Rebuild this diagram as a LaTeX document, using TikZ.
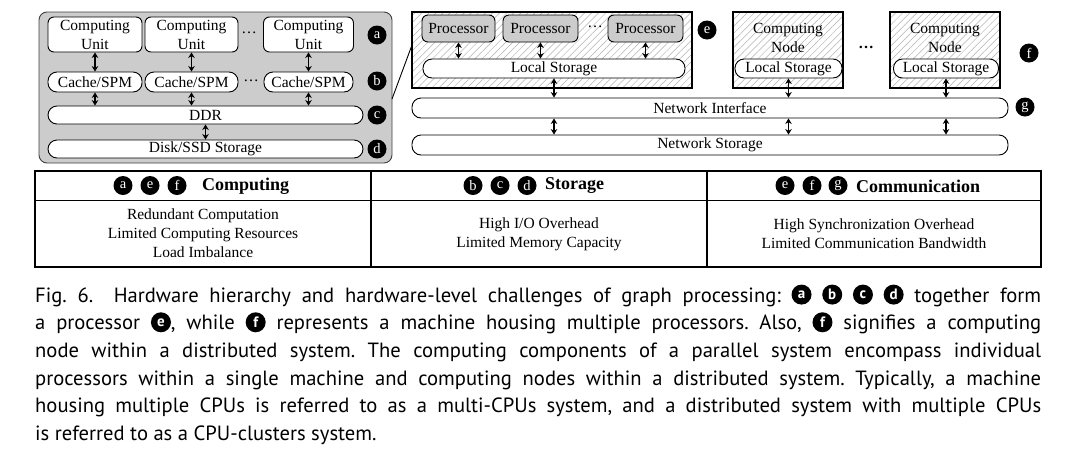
\documentclass[tikz,border=0pt]{standalone}
\usepackage{fontspec}
\setmainfont{Liberation Serif}
\newfontfamily\captfont{PT Sans}
\usetikzlibrary{patterns.meta,arrows.meta}
\frenchspacing
\newcommand\dgfont{\fontsize{15.5}{19}\selectfont}
\newcommand\hdfont{\fontsize{18}{20}\selectfont\bfseries}
\newcommand\cc[1]{\tikz[baseline=-0.36em]\node[anchor=center,circle,fill=black,text=white,inner sep=0pt,minimum size=20pt,font=\captfont\bfseries\fontsize{15}{15}\selectfont]{#1};}
\tikzset{
  box/.style={draw=black, line width=0.9pt, fill=white, rounded corners=6pt, align=center, inner sep=0pt, font=\dgfont},
  procbox/.style={box, fill=black!20},
  pill/.style={draw=black, line width=0.9pt, fill=white, rounded corners=9pt, inner sep=0pt, font=\dgfont},
  hatchbox/.style={draw=black, line width=1.1pt, inner sep=0pt, preaction={fill=white}, pattern={Lines[angle=45,distance=5pt,line width=0.5pt]}, pattern color=black!30},
  lab/.style={circle, fill=black, text=white, inner sep=0pt, minimum size=19pt, font=\fontsize{14.5}{14.5}\selectfont},
  dar/.style={{Stealth[length=5.5pt,width=6.5pt]}-{Stealth[length=5.5pt,width=6.5pt]}, line width=1.1pt},
  txt/.style={inner sep=0pt, align=center, font=\dgfont},
  hd/.style={inner sep=0pt, anchor=west, font=\hdfont},
  capline/.style={inner sep=0pt, anchor=base west, font=\captfont\fontsize{20.6}{27.7}\selectfont}
}
\begin{document}
\begin{tikzpicture}[x=1pt,y=-1pt]
\useasboundingbox (0,0) rectangle (1080,456);
% ---- left processor group
\node[draw=black!75, fill=black!20, rounded corners=8pt, line width=0.9pt, minimum width=353pt, minimum height=151pt, inner sep=0pt] (grp) at (215.5,87.5) {};
\node[box, minimum width=94pt, minimum height=35pt] (cu1) at (95,34.5) {Computing\\Unit};
\node[box, minimum width=93pt, minimum height=35pt] (cu2) at (191.5,34.5) {Computing\\Unit};
\node[box, minimum width=90pt, minimum height=35pt] (cu3) at (308.5,34.5) {Computing\\Unit};
\node[txt] (dots1) at (249,33) {\dots};
\node[pill, minimum width=94pt, minimum height=20pt] (ca1) at (95,82) {Cache/SPM};
\node[pill, minimum width=93pt, minimum height=20pt] (ca2) at (191.5,82) {Cache/SPM};
\node[pill, minimum width=89pt, minimum height=20pt] (ca3) at (308.5,82) {Cache/SPM};
\node[txt] (dots2) at (251,81) {\dots};
\node[pill, minimum width=315pt, minimum height=18pt] (ddr) at (205.5,115) {DDR};
\node[pill, minimum width=315pt, minimum height=18pt] (disk) at (205.5,149) {Disk/SSD Storage};
\draw[dar] (cu1) -- (ca1);
\draw[dar] (cu2) -- (ca2);
\draw[dar] (cu3) -- (ca3);
\draw[dar] (ca1.south) -- (ca1.south |- ddr.north);
\draw[dar] (ca2.south) -- (ca2.south |- ddr.north);
\draw[dar] (ca3.south) -- (ca3.south |- ddr.north);
\draw[dar] (ddr) -- (disk);
\node[lab] (la) at (377,35) {a};
\node[lab] (lb) at (377,81) {b};
\node[lab] (lc) at (377,115) {c};
\node[lab] (ld) at (377,149) {d};
% ---- processor frame
\node[hatchbox, minimum width=280pt, minimum height=76pt] (pf) at (552,50) {};
\coordinate (dA) at (392,99);
\coordinate (dB) at (412,45);
\draw[line width=0.9pt] (dA) -- (dB);
\node[procbox, minimum width=73pt, minimum height=27pt] (p1) at (458.5,28.5) {Processor};
\node[procbox, minimum width=75pt, minimum height=27pt] (p2) at (540.5,28.5) {Processor};
\node[procbox, minimum width=75pt, minimum height=27pt] (p3) at (645.5,28.5) {Processor};
\node[txt] (dots3) at (595,27) {\dots};
\node[pill, minimum width=262pt, minimum height=19pt] (ls) at (554,68.5) {Local Storage};
\draw[dar] (p1.south) -- (p1.south |- ls.north);
\draw[dar] (p2.south) -- (p2.south |- ls.north);
\draw[dar] (p3.south) -- (p3.south |- ls.north);
\node[lab] (le) at (707,30) {e};
% ---- computing nodes
\node[hatchbox, minimum width=110pt, minimum height=76pt] (cn1) at (788,50) {};
\node[hatchbox, minimum width=110pt, minimum height=76pt] (cn2) at (945,50) {};
\node[txt] (cn1t) at (788,37.5) {Computing\\Node};
\node[txt] (cn2t) at (945,37.5) {Computing\\Node};
\node[pill, minimum width=107pt, minimum height=19pt] (ls1) at (788.5,68.5) {Local Storage};
\node[pill, minimum width=105pt, minimum height=19pt] (ls2) at (946,68.5) {Local Storage};
\node[txt, font=\dgfont\bfseries] (dots4) at (866,47) {\dots};
\node[lab] (lf) at (1029,53) {f};
% ---- network
\node[pill, minimum width=596pt, minimum height=20pt] (ni) at (710,108) {Network Interface};
\node[pill, minimum width=596pt, minimum height=20pt] (ns) at (710,145) {Network Storage};
\node[lab] (lg) at (1025,107) {g};
\draw[dar] (ls.south) -- (ls.south |- ni.north);
\draw[dar] (ls1.south) -- (ls1.south |- ni.north);
\draw[dar] (ls2.south) -- (ls2.south |- ni.north);
\draw[dar] (ni.south -| ls.south) -- (ns.north -| ls.south);
\draw[dar] (ni.south -| ls1.south) -- (ns.north -| ls1.south);
\draw[dar] (ni.south -| ls2.south) -- (ns.north -| ls2.south);
% ---- table
\coordinate (tTL) at (35,170.5);
\coordinate (tBR) at (1041,266.5);
\coordinate (hL) at (35,200.5);
\coordinate (hR) at (1041,200.5);
\coordinate (v1t) at (371,170.5);
\coordinate (v1b) at (371,266.5);
\coordinate (v2t) at (707,170.5);
\coordinate (v2b) at (707,266.5);
\draw[line width=1.5pt] (hL) -- (hR);
\draw[line width=1.8pt] (v1t) -- (v1b);
\draw[line width=1.8pt] (v2t) -- (v2b);
\draw[line width=2pt] (tTL) rectangle (tBR);
\node[lab] (ha) at (123,185.5) {a};
\node[lab] (he1) at (150,185.5) {e};
\node[lab] (hf1) at (177,185.5) {f};
\node[hd] (h1) at (202,186) {Computing};
\node[lab] (hb) at (473,185.5) {b};
\node[lab] (hc) at (500,185.5) {c};
\node[lab] (hd) at (527,185.5) {d};
\node[hd] (h2) at (545,186) {Storage};
\node[lab] (he2) at (785,185.5) {e};
\node[lab] (hf2) at (812,185.5) {f};
\node[lab] (hg) at (838,185.5) {g};
\node[hd] (h3) at (856,186) {Communication};
\node[txt] (b1) at (203,233.5) {Redundant Computation\\Limited Computing Resources\\Load Imbalance};
\node[txt] (b2) at (539,234) {High I/O Overhead\\Limited Memory Capacity};
\node[txt] (b3) at (874,234) {High Synchronization Overhead\\Limited Communication Bandwidth};
% ---- caption
\node[capline] (cap1) at (35,302) {\makebox[1006pt][s]{Fig. 6.\quad Hardware hierarchy and hardware-level challenges of graph processing: \cc{a} \cc{b} \cc{c} \cc{d} together form}};
\node[capline] (cap2) at (35,329.7) {\makebox[1006pt][s]{a processor \cc{e}, while \cc{f} represents a machine housing multiple processors. Also, \cc{f} signifies a computing}};
\node[capline] (cap3) at (35,357.4) {\makebox[1006pt][s]{node within a distributed system. The computing components of a parallel system encompass individual}};
\node[capline] (cap4) at (35,385.1) {\makebox[1006pt][s]{processors within a single machine and computing nodes within a distributed system. Typically, a machine}};
\node[capline] (cap5) at (35,412.8) {\makebox[1006pt][s]{housing multiple CPUs is referred to as a multi-CPUs system, and a distributed system with multiple CPUs}};
\node[capline] (cap6) at (35,440.5) {is referred to as a CPU-clusters system.};
\end{tikzpicture}
\end{document}
